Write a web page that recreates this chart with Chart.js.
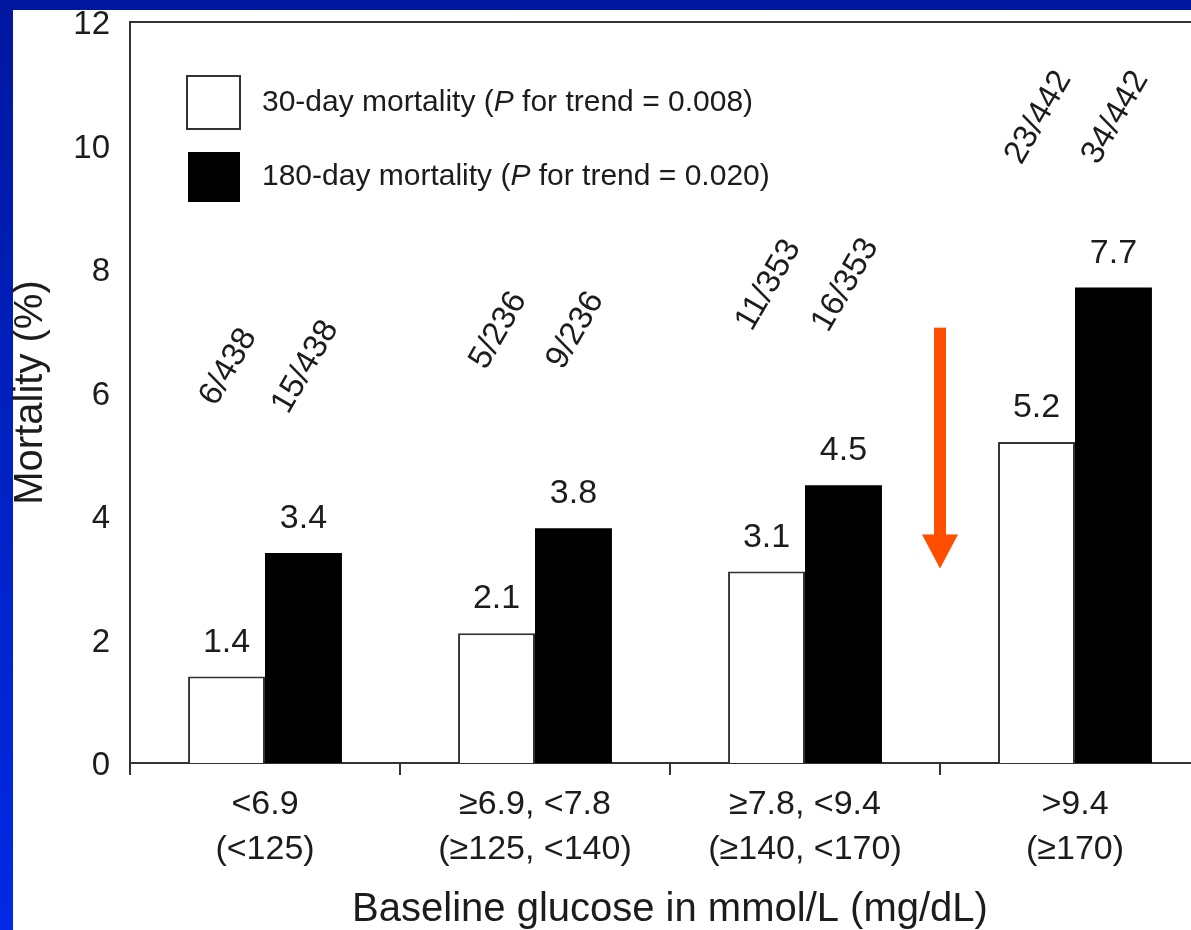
<!DOCTYPE html>
<html lang="en">
  <head>
    <meta charset="UTF-8" />
    <title>Mortality by baseline glucose</title>
    <script src="https://cdn.jsdelivr.net/npm/chart.js@4.4.1/dist/chart.umd.min.js"></script>
    <style>
      html, body { margin: 0; padding: 0; width: 1191px; height: 930px; overflow: hidden;
        background: linear-gradient(to bottom, #0018a0, #002ae6); }
      #panel { position: absolute; left: 13px; top: 10px; right: 0; bottom: 0; background: #fff; }
      #wrap { position: absolute; left: 0; top: 0; width: 1230px; height: 930px; }
    </style>
  </head>
  <body>
    <div id="panel"></div>
    <div id="wrap"><canvas id="myChart" width="1230" height="930"></canvas></div>
  </body>
</html>

<script>
  // glucose groups (two lines per tick label)
  const glucoseMmol = ['<6.9', '≥6.9, <7.8', '≥7.8, <9.4', '>9.4'];
  const glucoseMgdl = ['(<125)', '(≥125, <140)', '(≥140, <170)', '(≥170)'];

  // mortality in %
  const mort30 = [1.4, 2.1, 3.1, 5.2];
  const mort180 = [3.4, 3.8, 4.5, 7.7];

  // deaths / patients per group
  const deaths30 = [6, 5, 11, 23];
  const deaths180 = [15, 9, 16, 34];
  const patients = [438, 236, 353, 442];

  const seriesNames = ['30-day mortality', '180-day mortality'];
  const trendP = ['0.008', '0.020'];

  // arrow between 3rd and 4th group, in % units (top, tip)
  const arrowSpan = [7.05, 3.15];

  const FONT = '"Liberation Sans", Arial, Helvetica, sans-serif';
  const INK = '#1c1c1c';
  Chart.defaults.font.family = FONT;
  Chart.defaults.color = INK;

  const frameTop = {
    id: 'frameTop',
    afterDraw(chart) {
      const {ctx, chartArea} = chart;
      ctx.save();
      ctx.strokeStyle = '#333';
      ctx.lineWidth = 2;
      ctx.beginPath();
      ctx.moveTo(chartArea.left, chartArea.top);
      ctx.lineTo(chartArea.right + 5, chartArea.top);
      ctx.stroke();
      ctx.restore();
    }
  };

  const barText = {
    id: 'barText',
    afterDatasetsDraw(chart, args, opts) {
      const {ctx} = chart;
      const y = chart.scales.y;
      const m0 = chart.getDatasetMeta(0).data;
      const m1 = chart.getDatasetMeta(1).data;
      ctx.save();
      ctx.fillStyle = INK;
      // values over the bars
      ctx.font = '34px ' + FONT;
      ctx.textAlign = 'center';
      ctx.textBaseline = 'alphabetic';
      [m0, m1].forEach(function(bars, d) {
        const vals = d === 0 ? mort30 : mort180;
        bars.forEach(function(bar, i) {
          ctx.fillText(vals[i].toFixed(1), bar.x, bar.y - 25);
        });
      });
      // rotated counts
      ctx.font = '33px ' + FONT;
      ctx.textBaseline = 'middle';
      for (let i = 0; i < patients.length; i++) {
        const cy = y.getPixelForValue(Math.max(mort30[i], mort180[i])) - opts.lift[i];
        const pairs = [[m0[i].x, deaths30[i]], [m1[i].x, deaths180[i]]];
        pairs.forEach(function(p) {
          ctx.save();
          ctx.translate(p[0] + 2, cy);
          ctx.rotate(-60 * Math.PI / 180);
          ctx.fillText(p[1] + '/' + patients[i], 0, 0);
          ctx.restore();
        });
      }
      ctx.restore();
    }
  };

  const boxLegend = {
    id: 'boxLegend',
    afterDraw(chart) {
      const {ctx, chartArea} = chart;
      const x0 = chartArea.left + 57;
      const tops = [chartArea.top + 54, chartArea.top + 130];
      ctx.save();
      for (let k = 0; k < 2; k++) {
        const t = tops[k];
        if (k === 0) {
          ctx.fillStyle = '#fff';
          ctx.fillRect(x0, t, 53, 53);
          ctx.strokeStyle = '#333';
          ctx.lineWidth = 2;
          ctx.strokeRect(x0, t, 53, 53);
        } else {
          ctx.fillStyle = '#000';
          ctx.fillRect(x0 + 1, t, 52, 50);
        }
        const cy = t + (k === 0 ? 27 : 25);
        let tx = x0 + 75;
        ctx.fillStyle = INK;
        ctx.textAlign = 'left';
        ctx.textBaseline = 'middle';
        const parts = [[seriesNames[k] + ' (', false], ['P', true], [' for trend = ' + trendP[k] + ')', false]];
        parts.forEach(function(p) {
          ctx.font = (p[1] ? 'italic ' : '') + '30px ' + FONT;
          ctx.fillText(p[0], tx, cy);
          tx += ctx.measureText(p[0]).width;
        });
      }
      ctx.restore();
    }
  };

  const downArrow = {
    id: 'downArrow',
    afterDraw(chart) {
      const {ctx} = chart;
      const xs = chart.scales.x, ys = chart.scales.y;
      const x = (xs.getPixelForValue(2) + xs.getPixelForValue(3)) / 2;
      const top = ys.getPixelForValue(arrowSpan[0]);
      const tip = ys.getPixelForValue(arrowSpan[1]);
      const head = 34;
      ctx.save();
      ctx.fillStyle = '#ff4e00';
      ctx.fillRect(x - 6, top, 12, tip - head - top + 1);
      ctx.beginPath();
      ctx.moveTo(x - 18, tip - head);
      ctx.lineTo(x + 18, tip - head);
      ctx.lineTo(x, tip);
      ctx.closePath();
      ctx.fill();
      ctx.restore();
    }
  };

  const ctx = document.getElementById('myChart').getContext('2d');
  const myChart = new Chart(ctx, {
    type: 'bar',
    data: {
      labels: glucoseMmol.map(function(a, i) { return [a, glucoseMgdl[i]]; }),
      datasets: [
        {
          label: seriesNames[0],
          data: mort30,
          backgroundColor: '#ffffff',
          borderColor: '#333',
          borderWidth: 2
        },
        {
          label: seriesNames[1],
          data: mort180,
          backgroundColor: '#000000',
          borderColor: '#000000',
          borderWidth: 0
        }
      ]
    },
    options: {
      responsive: false,
      animation: false,
      devicePixelRatio: 1,
      categoryPercentage: 0.57,
      barPercentage: 1.0,
      layout: { padding: { top: 22, right: 20, left: 0, bottom: 0 } },
      plugins: {
        legend: { display: false },
        tooltip: { enabled: false },
        barText: { lift: [186, 198, 200, 170] }
      },
      scales: {
        x: {
          afterFit: function(s) { s.height = 167; s.paddingLeft = 0; s.paddingRight = 0; },
          grid: { display: true, drawOnChartArea: false, offset: true, tickLength: 12, color: '#333', lineWidth: 2 },
          border: { display: true, color: '#333', width: 2 },
          ticks: { font: { size: 34, lineHeight: 1.3 }, padding: 8, maxRotation: 0, color: INK },
          title: { display: true, text: 'Baseline glucose in mmol/L (mg/dL)', font: { size: 40, lineHeight: 1 }, padding: 0, color: INK }
        },
        y: {
          min: 0,
          max: 12,
          afterFit: function(s) { s.width = 130; s.paddingTop = 0; s.paddingBottom = 0; },
          grid: { display: false, drawTicks: false },
          border: { display: true, color: '#333', width: 2 },
          ticks: { stepSize: 2, font: { size: 33 }, padding: 20, labelOffset: 3, color: INK },
          title: { display: true, text: 'Mortality (%)', font: { size: 40, lineHeight: 1 }, padding: { top: 11, bottom: 0 }, color: INK }
        }
      }
    },
    plugins: [frameTop, barText, boxLegend, downArrow]
  });
</script>
